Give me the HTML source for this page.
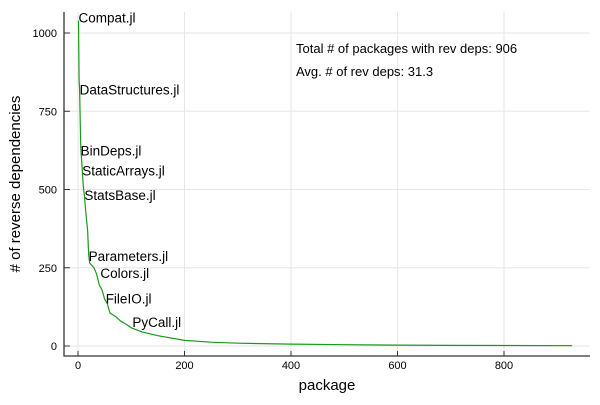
<!DOCTYPE html>
<html><head><meta charset="utf-8"><style>
body{margin:0;background:#fff}
svg text{font-family:"Liberation Sans",sans-serif}
</style></head><body>
<svg id="chart" width="600" height="400">
<g id="grid"></g>
<g id="axes"></g>
<path id="curve" fill="none" stroke="#1a9a1a" stroke-width="1.2"></path>
<g id="labels"></g>
<text x="296" y="53" font-size="13">Total # of packages with rev deps: 906</text>
<text x="296" y="76" font-size="13">Avg. # of rev deps: 31.3</text>
<text x="327" y="390" font-size="15" text-anchor="middle">package</text>
<text x="20" y="184" font-size="15" text-anchor="middle" transform="rotate(-90 20 184)"># of reverse dependencies</text>
</svg>
<script>
const ranks=[1,2,3,5,8,10,12,15,18,20,22,30,35,40,45,50,55,60,70,80,90,100,120,150,200,250,300,400,500,600,700,800,928];
const values=[1040,850,820,640,560,510,480,420,370,290,265,250,230,195,180,150,135,105,95,80,70,58,45,33,18,12,9,6,4,3,2,1.5,1];
const labelNames=["Compat.jl","DataStructures.jl","BinDeps.jl","StaticArrays.jl","StatsBase.jl","Parameters.jl","Colors.jl","FileIO.jl","PyCall.jl"];
const labelRanks=[1,3,5,8,12,20,42,52,102];
const labelValues=[1050,820,625,560,483,288,233,152,77];
const xTicks=[0,200,400,600,800];
const yTicks=[0,250,500,750,1000];
const NS="http://www.w3.org/2000/svg";
const X=v=>78+v*0.5325, Y=v=>346-v*0.313;
const L=64,R=590,T=12,B=356;
function mk(tag,attrs,parent){const e=document.createElementNS(NS,tag);for(const k in attrs)e.setAttribute(k,attrs[k]);parent.appendChild(e);return e;}
const grid=document.getElementById('grid'),axes=document.getElementById('axes'),lab=document.getElementById('labels');
xTicks.forEach(t=>{
 const g=mk('line',{x1:X(t),x2:X(t),y1:T,y2:B,stroke:'#e6e6e6','stroke-width':1},grid);
 
 
 const tk=mk('line',{x1:X(t),x2:X(t),y1:B,y2:B-5,stroke:'#333','stroke-width':1},axes);
 
 
 const tx=mk('text',{x:X(t),y:369,'font-size':11,'text-anchor':'middle'},axes);tx.textContent=t;
 
 
});
yTicks.forEach(t=>{
 const g=mk('line',{x1:L,x2:R,y1:Y(t),y2:Y(t),stroke:'#e6e6e6','stroke-width':1},grid);
 
 
 const tk=mk('line',{x1:L,x2:L+6,y1:Y(t),y2:Y(t),stroke:'#333','stroke-width':1},axes);
 
 
 const tx=mk('text',{x:57,y:Y(t)+4,'font-size':11,'text-anchor':'end'},axes);tx.textContent=t;
 
 
});
const ax=mk('path',{d:`M${L},${T} V${B} H${R}`,fill:'none',stroke:'#333','stroke-width':1.3},axes);


document.getElementById('curve').setAttribute('d',ranks.map((r,i)=>(i?'L':'M')+X(r).toFixed(1)+','+Y(values[i]).toFixed(1)).join(' '));
labelNames.forEach((n,i)=>{
 const t=mk('text',{x:X(labelRanks[i]),y:Y(labelValues[i])+5,'font-size':13.5},lab);t.textContent=n;
 
 
});
</script>
</body></html>
